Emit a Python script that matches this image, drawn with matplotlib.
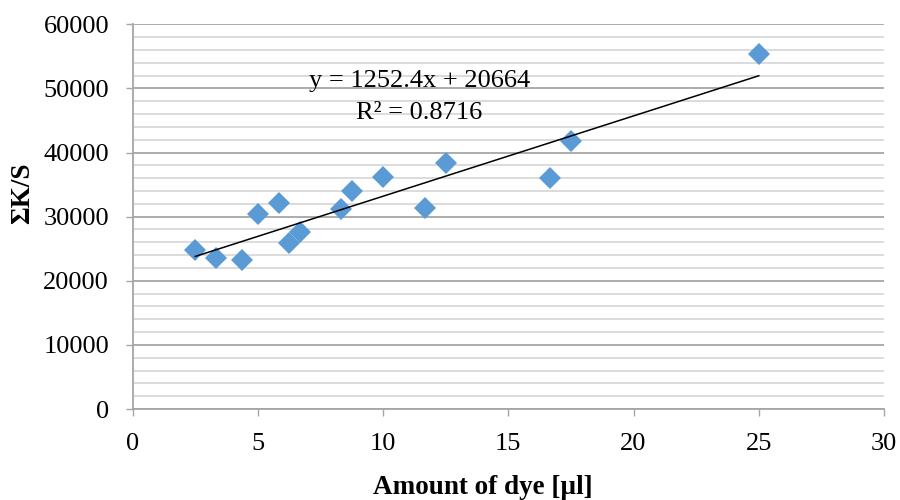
import numpy as np
import matplotlib
matplotlib.use('Agg')
import matplotlib.pyplot as plt
from matplotlib.ticker import MultipleLocator

# Measured data: dye volume vs summed K/S
dye_ul = [2.5, 3.33, 4.375, 5.0, 5.83, 6.25, 6.67, 8.33, 8.75, 10.0,
          11.67, 12.5, 16.67, 17.5, 25.0]
sum_ks = [24800, 23600, 23240, 30360, 32080, 25940, 27650, 31140, 34000,
          36130, 31300, 38410, 36070, 41800, 55320]

# Linear trendline as reported on the chart
slope = 1252.4
intercept = 20664
r_squared = 0.8716

plt.rcParams['font.family'] = ['Liberation Serif', 'DejaVu Serif']

fig = plt.figure(figsize=(9, 5), dpi=100)
ax = fig.add_axes([0.1474, 0.182, 0.8348, 0.7694])

ax.set_xlim(0, 30)
ax.set_ylim(0, 60000)
ax.xaxis.set_major_locator(MultipleLocator(5))
ax.yaxis.set_major_locator(MultipleLocator(10000))
ax.yaxis.set_minor_locator(MultipleLocator(2000))

# Excel-style horizontal gridlines
ax.grid(axis='y', which='minor', color='#d9d9d9', linewidth=1.3, zorder=0)
ax.grid(axis='y', which='major', color='#a6a6a6', linewidth=1.3, zorder=0)
ax.set_axisbelow(True)

for side in ['top', 'right']:
    ax.spines[side].set_visible(False)
ax.spines['left'].set_color('#a6a6a6')
ax.spines['bottom'].set_color('#a6a6a6')
ax.spines['left'].set_linewidth(1.3)
ax.spines['bottom'].set_linewidth(1.3)

ax.tick_params(axis='y', which='major', length=5, width=1, color='#a6a6a6',
               labelsize=19, pad=12)
ax.tick_params(axis='y', which='minor', length=0)
ax.tick_params(axis='x', which='major', length=5, width=1, color='#a6a6a6',
               labelsize=19, pad=12)

ax.plot(dye_ul, sum_ks, linestyle='none', marker='D', markersize=11,
        color='#5b9bd5', markeredgewidth=0, zorder=3)

# Trendline spans the range of the measurements
xs = np.array([min(dye_ul), max(dye_ul)])
ax.plot(xs, slope * xs + intercept, color='black', linewidth=1.1, zorder=4)

ax.text(11.45, 48650, f"y = {slope}x + {intercept}\nR² = {r_squared}",
        ha='center', va='center', fontsize=19, linespacing=1.6, zorder=5)

fig.text(483 / 900, 1 - 487 / 500, 'Amount of dye [µl]', ha='center',
         va='center', fontsize=19.5, fontweight='bold')
fig.text(23 / 900, 1 - 193 / 500, 'ΣK/S', ha='center', va='center',
         rotation=90, fontsize=19.5, fontweight='bold')

fig.savefig('out.png', dpi=100)
